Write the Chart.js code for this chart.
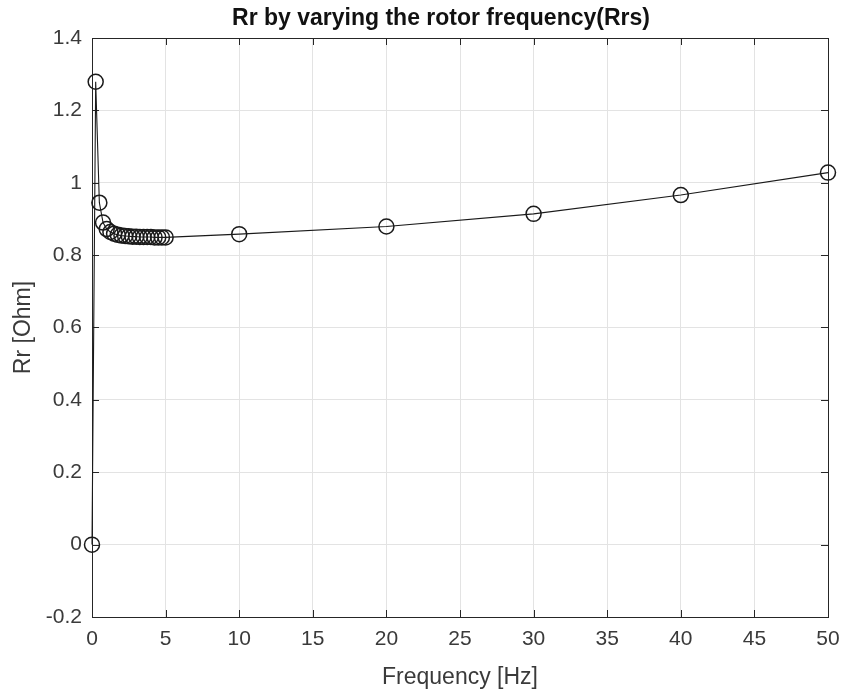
<!DOCTYPE html>
<html>
<head>
<meta charset="utf-8">
<title>Rr by varying the rotor frequency(Rrs)</title>
<script src="https://cdn.jsdelivr.net/npm/chart.js@4/dist/chart.umd.min.js"></script>
<style>
  html, body { margin: 0; padding: 0; background: #fff; }
  #wrap { width: 847px; height: 697px; }
</style>
</head>
<body>
<div id="wrap"><canvas id="rrChart" width="847" height="697"></canvas></div>
<script>
// rotor frequency sweep (Hz) and estimated rotor resistance (Ohm)
const freqHz = [0, 0.25, 0.5, 0.75, 1, 1.25, 1.5, 1.75, 2, 2.25, 2.5, 2.75, 3, 3.25, 3.5, 3.75, 4, 4.25, 4.5, 4.75, 5, 10, 20, 30, 40, 50];
const rrOhm = [0, 1.279, 0.945, 0.890, 0.872, 0.864, 0.859, 0.856, 0.854, 0.853, 0.852, 0.851, 0.851, 0.850, 0.850, 0.850, 0.850, 0.849, 0.849, 0.849, 0.849, 0.858, 0.879, 0.914, 0.966, 1.028];
const xTicks = [0, 5, 10, 15, 20, 25, 30, 35, 40, 45, 50];
const yTicks = [-0.2, 0, 0.2, 0.4, 0.6, 0.8, 1, 1.2, 1.4];
const chartTitle = 'Rr by varying the rotor frequency(Rrs)';

const axisColor = '#262626';
const textColor = '#3a3a3a';
const gridColor = '#e3e3e3';
const fontFamily = '"Liberation Sans", Arial, Helvetica, sans-serif';

// box around the axes with inward tick marks on all four sides, plus the title
const boxTicks = {
    id: 'boxTicks',
    beforeDatasetsDraw(chart) {
        const { ctx, chartArea: a, scales } = chart;
        const len = 7;
        ctx.save();
        ctx.strokeStyle = axisColor;
        ctx.lineWidth = 1;
        ctx.strokeRect(a.left + 0.5, a.top + 0.5, a.right - a.left, a.bottom - a.top);
        ctx.beginPath();
        xTicks.forEach(v => {
            const x = Math.round(scales.x.getPixelForValue(v)) + 0.5;
            ctx.moveTo(x, a.bottom); ctx.lineTo(x, a.bottom - len);
            ctx.moveTo(x, a.top); ctx.lineTo(x, a.top + len);
        });
        yTicks.forEach(v => {
            const y = Math.round(scales.y.getPixelForValue(v)) + 0.5;
            ctx.moveTo(a.left, y); ctx.lineTo(a.left + len, y);
            ctx.moveTo(a.right, y); ctx.lineTo(a.right - len, y);
        });
        ctx.stroke();
        ctx.restore();
    },
    afterDraw(chart) {
        const { ctx, chartArea: a } = chart;
        ctx.save();
        ctx.fillStyle = '#111';
        ctx.font = 'bold 23px ' + fontFamily;
        ctx.textAlign = 'center';
        ctx.textBaseline = 'middle';
        ctx.fillText(chartTitle, (a.left + a.right) / 2 - 19, a.top / 2);
        ctx.restore();
    }
};

new Chart(document.getElementById('rrChart'), {
    type: 'scatter',
    data: {
        datasets: [{
            label: 'Rr',
            data: freqHz.map((f, i) => ({ x: f, y: rrOhm[i] })),
            showLine: true,
            clip: false,
            borderColor: '#1a1a1a',
            borderWidth: 1.1,
            pointStyle: 'circle',
            pointRadius: 7.5,
            pointBorderWidth: 1.5,
            pointBorderColor: '#1a1a1a',
            pointBackgroundColor: 'rgba(0,0,0,0)',
            tension: 0
        }]
    },
    options: {
        responsive: false,
        animation: false,
        layout: { padding: { left: 0, right: 19, top: 38, bottom: 0 } },
        plugins: {
            legend: { display: false },
            tooltip: { enabled: false },
            title: { display: false }
        },
        scales: {
            x: {
                type: 'linear',
                min: 0,
                max: 50,
                afterBuildTicks: s => { s.ticks = xTicks.map(v => ({ value: v })); },
                afterFit: s => { s.height = 80; s.paddingLeft = 0; s.paddingRight = 0; },
                grid: { color: gridColor, drawTicks: false },
                border: { display: false },
                ticks: {
                    color: textColor,
                    padding: 10,
                    font: { family: fontFamily, size: 21 },
                    callback: v => String(v)
                },
                title: {
                    display: true,
                    text: 'Frequency [Hz]',
                    color: textColor,
                    font: { family: fontFamily, size: 23 },
                    padding: { top: 2, bottom: 6 }
                }
            },
            y: {
                type: 'linear',
                min: -0.2,
                max: 1.4,
                afterBuildTicks: s => { s.ticks = yTicks.map(v => ({ value: v })); },
                afterFit: s => { s.width = 92; s.paddingTop = 0; s.paddingBottom = 0; },
                grid: { color: gridColor, drawTicks: false },
                border: { display: false },
                ticks: {
                    color: textColor,
                    padding: 10,
                    font: { family: fontFamily, size: 21 },
                    callback: v => String(Number(v.toFixed(1)))
                },
                title: {
                    display: true,
                    text: 'Rr [Ohm]',
                    color: textColor,
                    font: { family: fontFamily, size: 23 },
                    padding: { top: 10, bottom: 0 }
                }
            }
        }
    },
    plugins: [boxTicks]
});
</script>
</body>
</html>
